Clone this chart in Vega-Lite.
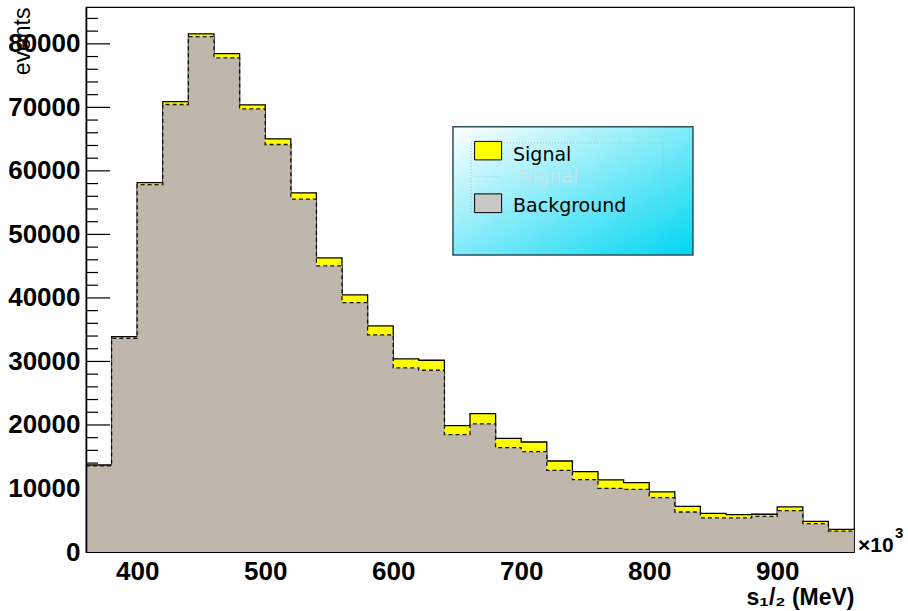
{
  "$schema": "https://vega.github.io/schema/vega-lite/v6.json",
  "width": 768,
  "height": 545,
  "autosize": {"type": "none"},
  "padding": {"left": 86, "top": 7, "right": 54, "bottom": 59},
  "background": "#ffffff",
  "config": {
    "view": {"stroke": "#000000", "strokeWidth": 1.2},
    "axis": {"labelFont": "Liberation Sans", "labelFontWeight": "bold", "labelFontSize": 26, "labelColor": "#000000", "domainColor": "#000000", "tickColor": "#000000", "grid": false, "titleColor": "#000000", "labelOverlap": false}
  },
  "data": {"values": [
    {"lo": 360, "hi": 380, "total": 13700, "bg": 13550},
    {"lo": 380, "hi": 400, "total": 33900, "bg": 33650},
    {"lo": 400, "hi": 420, "total": 58150, "bg": 57850},
    {"lo": 420, "hi": 440, "total": 70900, "bg": 70450},
    {"lo": 440, "hi": 460, "total": 81570, "bg": 81150},
    {"lo": 460, "hi": 480, "total": 78470, "bg": 77800},
    {"lo": 480, "hi": 500, "total": 70400, "bg": 69760},
    {"lo": 500, "hi": 520, "total": 65040, "bg": 64150},
    {"lo": 520, "hi": 540, "total": 56540, "bg": 55540},
    {"lo": 540, "hi": 560, "total": 46300, "bg": 45040},
    {"lo": 560, "hi": 580, "total": 40470, "bg": 39260},
    {"lo": 580, "hi": 600, "total": 35590, "bg": 34170},
    {"lo": 600, "hi": 620, "total": 30390, "bg": 28980},
    {"lo": 620, "hi": 640, "total": 30190, "bg": 28610},
    {"lo": 640, "hi": 660, "total": 19900, "bg": 18480},
    {"lo": 660, "hi": 680, "total": 21780, "bg": 20160},
    {"lo": 680, "hi": 700, "total": 17900, "bg": 16430},
    {"lo": 700, "hi": 720, "total": 17320, "bg": 15800},
    {"lo": 720, "hi": 740, "total": 14330, "bg": 12860},
    {"lo": 740, "hi": 760, "total": 12650, "bg": 11390},
    {"lo": 760, "hi": 780, "total": 11340, "bg": 10030},
    {"lo": 780, "hi": 800, "total": 10920, "bg": 9870},
    {"lo": 800, "hi": 820, "total": 9450, "bg": 8560},
    {"lo": 820, "hi": 840, "total": 7190, "bg": 6300},
    {"lo": 840, "hi": 860, "total": 6090, "bg": 5380},
    {"lo": 860, "hi": 880, "total": 5880, "bg": 5380},
    {"lo": 880, "hi": 900, "total": 5940, "bg": 5620},
    {"lo": 900, "hi": 920, "total": 7090, "bg": 6510},
    {"lo": 920, "hi": 940, "total": 4830, "bg": 4460},
    {"lo": 940, "hi": 960, "total": 3570, "bg": 3300}
  ]},
  "layer": [
    {
      "transform": [{"fold": ["lo", "hi"], "as": ["edge", "xv"]}],
      "mark": {"type": "area", "color": "#ffff00", "interpolate": "linear"},
      "encoding": {
        "x": {"field": "xv", "type": "quantitative",
          "scale": {"domain": [360, 960], "nice": false, "zero": false},
          "axis": {"values": [400, 500, 600, 700, 800, 900], "ticks": false, "labelPadding": 6, "format": "d", "labelFlush": false, "zindex": 1,
            "title": "s₁/₂ (MeV)", "titleFont": "Liberation Sans", "titleFontWeight": "bold", "titleFontSize": 23,
            "titleAnchor": "end", "titleAlign": "right", "titleX": 768, "titleY": 52, "titleBaseline": "alphabetic"}},
        "y": {"field": "total", "type": "quantitative", "stack": null,
          "scale": {"domain": [0, 85800], "nice": false, "zero": false},
          "axis": {"orient": "left", "values": [0, 10000, 20000, 30000, 40000, 50000, 60000, 70000, 80000],
            "ticks": false, "labelPadding": 6, "format": "d", "labelFlush": false, "domain": true, "domainWidth": 1.6, "zindex": 1,
            "title": "events", "titleFont": "Liberation Sans", "titleFontWeight": "normal", "titleFontSize": 23,
            "titleAnchor": "end", "titleAlign": "right", "titleAngle": 270, "titleBaseline": "bottom", "titleX": -52, "titleY": 0}},
        "order": [{"field": "lo", "type": "quantitative"}, {"field": "edge", "type": "nominal", "sort": "descending"}]
      }
    },
    {
      "transform": [{"fold": ["lo", "hi"], "as": ["edge", "xv"]}],
      "mark": {"type": "line", "color": "#000000", "strokeWidth": 1.3},
      "encoding": {
        "x": {"field": "xv", "type": "quantitative"},
        "y": {"field": "total", "type": "quantitative"},
        "order": [{"field": "lo", "type": "quantitative"}, {"field": "edge", "type": "nominal", "sort": "descending"}]
      }
    },
    {
      "transform": [{"fold": ["lo", "hi"], "as": ["edge", "xv"]}],
      "mark": {"type": "area", "color": "#bfb6ac", "interpolate": "linear"},
      "encoding": {
        "x": {"field": "xv", "type": "quantitative"},
        "y": {"field": "bg", "type": "quantitative", "stack": null},
        "order": [{"field": "lo", "type": "quantitative"}, {"field": "edge", "type": "nominal", "sort": "descending"}]
      }
    },
    {
      "transform": [{"fold": ["lo", "hi"], "as": ["edge", "xv"]}],
      "mark": {"type": "line", "color": "#111111", "strokeWidth": 1.3, "strokeDash": [4, 3]},
      "encoding": {
        "x": {"field": "xv", "type": "quantitative"},
        "y": {"field": "bg", "type": "quantitative"},
        "order": [{"field": "lo", "type": "quantitative"}, {"field": "edge", "type": "nominal", "sort": "descending"}]
      }
    },
    {
      "data": {"values": [{"v": 20000}, {"v": 30000}, {"v": 40000}, {"v": 50000}, {"v": 60000}, {"v": 70000}, {"v": 80000}]},
      "mark": {"type": "rule", "color": "#000000", "strokeWidth": 1.2},
      "encoding": {
        "x": {"datum": 360, "type": "quantitative"},
        "x2": {"datum": 378.8},
        "y": {"field": "v", "type": "quantitative"}
      }
    },
    {
      "data": {"values": [{"v": 14000}, {"v": 16000}, {"v": 18000}, {"v": 22000}, {"v": 24000}, {"v": 26000}, {"v": 28000}, {"v": 32000}, {"v": 34000}, {"v": 36000}, {"v": 38000}, {"v": 42000}, {"v": 44000}, {"v": 46000}, {"v": 48000}, {"v": 52000}, {"v": 54000}, {"v": 56000}, {"v": 58000}, {"v": 62000}, {"v": 64000}, {"v": 66000}, {"v": 68000}, {"v": 72000}, {"v": 74000}, {"v": 76000}, {"v": 78000}, {"v": 82000}, {"v": 84000}]},
      "mark": {"type": "rule", "color": "#000000", "strokeWidth": 1.2},
      "encoding": {
        "x": {"datum": 360, "type": "quantitative"},
        "x2": {"datum": 369.4},
        "y": {"field": "v", "type": "quantitative"}
      }
    },
    {
      "data": {"values": [{"x1": 646.7, "x2": 834.2, "y1": 66930, "y2": 46770}]},
      "mark": {"type": "rect", "stroke": "#2f4f5a", "strokeWidth": 1.5,
        "fill": {"gradient": "linear", "x1": 0, "y1": 0, "x2": 1, "y2": 1, "stops": [{"offset": 0, "color": "#ffffff"}, {"offset": 1, "color": "#00d6f2"}]}},
      "encoding": {
        "x": {"field": "x1", "type": "quantitative"}, "x2": {"field": "x2"},
        "y": {"field": "y1", "type": "quantitative"}, "y2": {"field": "y2"}
      }
    },
    {
      "data": {"values": [{"x1": 660.8, "x2": 810.8, "y1": 64410, "y2": 53540}]},
      "mark": {"type": "rect", "fill": null, "stroke": "#9cc4cc", "strokeWidth": 1, "strokeDash": [1, 2]},
      "encoding": {
        "x": {"field": "x1", "type": "quantitative"}, "x2": {"field": "x2"},
        "y": {"field": "y1", "type": "quantitative"}, "y2": {"field": "y2"}
      }
    },
    {
      "data": {"values": [{"x1": 662.3, "x2": 683.4, "y1": 59055}]},
      "mark": {"type": "rule", "stroke": "#a8cdd4", "strokeWidth": 1, "strokeDash": [1, 1]},
      "encoding": {
        "x": {"field": "x1", "type": "quantitative"}, "x2": {"field": "x2"},
        "y": {"field": "y1", "type": "quantitative"}
      }
    },
    {
      "data": {"values": [
        {"x1": 663.6, "x2": 684.7, "y1": 64640, "y2": 61730, "c": "#ffff00"},
        {"x1": 663.6, "x2": 684.7, "y1": 56380, "y2": 53430, "c": "#c8c8c8"}
      ]},
      "mark": {"type": "rect", "stroke": "#000000", "strokeWidth": 1},
      "encoding": {
        "x": {"field": "x1", "type": "quantitative"}, "x2": {"field": "x2"},
        "y": {"field": "y1", "type": "quantitative"}, "y2": {"field": "y2"},
        "fill": {"field": "c", "type": "nominal", "scale": null}
      }
    },
    {
      "data": {"values": [
        {"tx": 693.6, "ty": 61575, "label": "Signal"},
        {"tx": 693.6, "ty": 53600, "label": "Background"}
      ]},
      "mark": {"type": "text", "align": "left", "baseline": "alphabetic", "font": "DejaVu Sans", "fontSize": 19, "color": "#000000"},
      "encoding": {
        "x": {"field": "tx", "type": "quantitative"},
        "y": {"field": "ty", "type": "quantitative"},
        "text": {"field": "label"}
      }
    },
    {
      "data": {"values": [{"tx": 699, "ty": 58110, "label": "Signal"}]},
      "mark": {"type": "text", "align": "left", "baseline": "alphabetic", "font": "DejaVu Sans", "fontSize": 19, "color": "#bfe6ee"},
      "encoding": {
        "x": {"field": "tx", "type": "quantitative"},
        "y": {"field": "ty", "type": "quantitative"},
        "text": {"field": "label"}
      }
    },
    {
      "data": {"values": [{"tx": 960, "ty": 0, "label": "×10"}]},
      "mark": {"type": "text", "align": "left", "baseline": "alphabetic", "dx": 4, "dy": 0, "font": "Liberation Sans", "fontWeight": "bold", "fontSize": 21, "color": "#000000"},
      "encoding": {
        "x": {"field": "tx", "type": "quantitative"},
        "y": {"field": "ty", "type": "quantitative"},
        "text": {"field": "label"}
      }
    },
    {
      "data": {"values": [{"tx": 960, "ty": 0, "label": "3"}]},
      "mark": {"type": "text", "align": "left", "baseline": "alphabetic", "dx": 41, "dy": -14, "font": "Liberation Sans", "fontWeight": "bold", "fontSize": 15, "color": "#000000"},
      "encoding": {
        "x": {"field": "tx", "type": "quantitative"},
        "y": {"field": "ty", "type": "quantitative"},
        "text": {"field": "label"}
      }
    }
  ]
}
